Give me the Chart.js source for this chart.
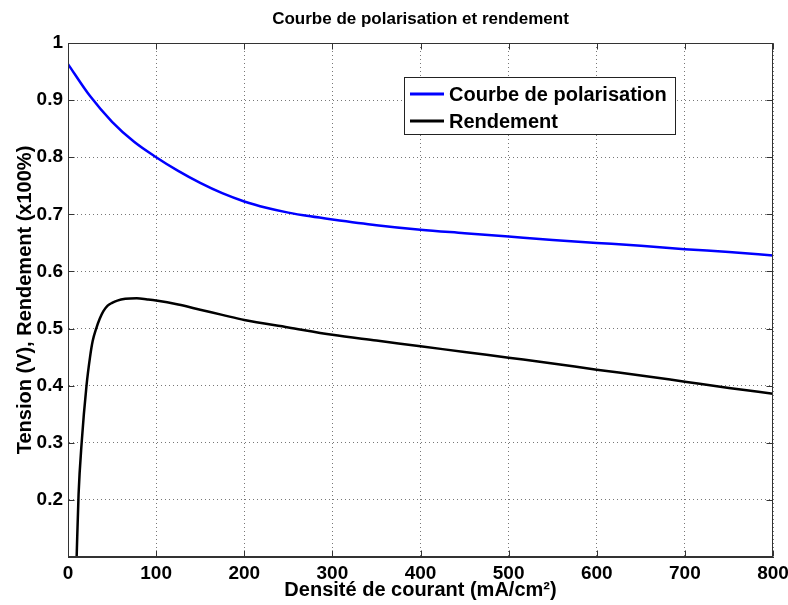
<!DOCTYPE html>
<html>
<head>
<meta charset="utf-8">
<script src="https://cdn.jsdelivr.net/npm/chart.js@4/dist/chart.umd.min.js"></script>
<style>
  html, body { margin: 0; padding: 0; background: #fff; }
  #wrap { width: 788px; height: 605px; }
</style>
</head>
<body>
<div id="wrap"><canvas id="c" width="788" height="605"></canvas></div>
<script>
// ---- Data ----
const chartTitle = 'Courbe de polarisation et rendement';
const xTitle = 'Densité de courant (mA/cm²)';
const yTitle = 'Tension (V), Rendement (x100%)';
const seriesNames = ['Courbe de polarisation', 'Rendement'];

// Polarisation curve
const polCurrent = [0, 25, 50, 75, 100, 125, 150, 175, 200, 225, 250, 275, 300, 350, 400, 450, 500, 550, 600, 650, 700, 750, 800];
const polVoltage = [0.963, 0.907, 0.862, 0.827, 0.800, 0.776, 0.755, 0.737, 0.7225, 0.7115, 0.703, 0.6965, 0.691, 0.681, 0.673, 0.667, 0.661, 0.655, 0.650, 0.645, 0.639, 0.634, 0.628];

// Efficiency curve
const effCurrent = [8, 10, 12, 15.5, 21, 25, 28, 32, 36, 40, 45, 50, 56, 65, 78, 90, 100, 125, 150, 175, 200, 250, 300, 350, 400, 450, 500, 550, 600, 650, 700, 750, 800];
const effValue   = [0.0, 0.11, 0.21, 0.30, 0.40, 0.45, 0.478, 0.50, 0.517, 0.530, 0.540, 0.545, 0.549, 0.552, 0.553, 0.551, 0.549, 0.542, 0.533, 0.524, 0.515, 0.502, 0.489, 0.479, 0.469, 0.459, 0.449, 0.439, 0.428, 0.418, 0.407, 0.396, 0.386];

// Axis ticks
const xMin = 0, xMax = 800, xStep = 100;
const yMin = 0.1, yMax = 1, yStep = 0.1;

const FONT = "'Liberation Sans', Arial, Helvetica, sans-serif";

const polPoints = polCurrent.map((x, i) => ({ x, y: polVoltage[i] }));
const effPoints = effCurrent.map((x, i) => ({ x, y: effValue[i] }));

const framePlugin = {
  id: 'frame',
  afterDatasetsDraw(chart) {
    const { ctx, chartArea: a, scales } = chart;
    ctx.save();
    ctx.strokeStyle = '#333';
    ctx.lineWidth = 1;
    const L = Math.round(a.left) + 0.5, R = Math.round(a.right) - 0.5;
    const T = Math.round(a.top) + 0.5, B = Math.round(a.bottom) - 0.5;
    ctx.strokeRect(L, T, R - L, B - T);
    const tl = 6;
    ctx.beginPath();
    scales.x.ticks.forEach(t => {
      const px = Math.round(scales.x.getPixelForValue(t.value)) + 0.5;
      ctx.moveTo(px, B); ctx.lineTo(px, B - tl);
      ctx.moveTo(px, T); ctx.lineTo(px, T + tl);
    });
    scales.y.ticks.forEach(t => {
      const py = Math.round(scales.y.getPixelForValue(t.value)) + 0.5;
      ctx.moveTo(L, py); ctx.lineTo(L + tl, py);
      ctx.moveTo(R, py); ctx.lineTo(R - tl, py);
    });
    ctx.stroke();

    // Legend box
    const bx = 404.5, by = 77.5, bw = 271, bh = 57;
    ctx.fillStyle = '#fff';
    ctx.fillRect(bx, by, bw, bh);
    ctx.strokeStyle = '#222';
    ctx.strokeRect(bx, by, bw, bh);
    ctx.font = 'bold 20px ' + FONT;
    ctx.textBaseline = 'middle';
    ctx.textAlign = 'left';
    chart.data.datasets.forEach((ds, i) => {
      const yy = 94 + i * 27;
      ctx.strokeStyle = ds.borderColor;
      ctx.lineWidth = 3;
      ctx.beginPath();
      ctx.moveTo(410, yy); ctx.lineTo(444, yy);
      ctx.stroke();
      ctx.fillStyle = '#000';
      ctx.fillText(ds.label, 449, yy + 1);
    });

    // Title
    ctx.font = 'bold 17px ' + FONT;
    ctx.textAlign = 'center';
    ctx.fillStyle = '#000';
    ctx.fillText(chartTitle, (a.left + a.right) / 2, 19);
    ctx.restore();
  }
};

new Chart(document.getElementById('c'), {
  type: 'line',
  data: {
    datasets: [
      { label: seriesNames[0], data: polPoints, borderColor: '#0000ff', backgroundColor: '#0000ff',
        borderWidth: 2.5, pointRadius: 0, cubicInterpolationMode: 'monotone', fill: false, clip: 0 },
      { label: seriesNames[1], data: effPoints, borderColor: '#000000', backgroundColor: '#000000',
        borderWidth: 2.5, pointRadius: 0, cubicInterpolationMode: 'monotone', fill: false, clip: 0 }
    ]
  },
  options: {
    responsive: false,
    animation: false,
    devicePixelRatio: 1,
    layout: { padding: { top: 43, right: 15, left: 0, bottom: 0 } },
    plugins: { legend: { display: false }, title: { display: false }, tooltip: { enabled: false } },
    scales: {
      x: {
        type: 'linear', min: xMin, max: xMax,
        ticks: { stepSize: xStep, color: '#000', padding: 5, font: { family: FONT, size: 19, weight: 'bold' } },
        grid: { color: '#777', drawTicks: false, lineWidth: 1 },
        border: { display: true, color: '#333', dash: [1, 3] },
        title: { display: true, text: xTitle, color: '#000', font: { family: FONT, size: 20, weight: 'bold' }, padding: { top: 0, bottom: 3 } },
        afterFit(s) { s.height = 48; s.paddingLeft = 0; s.paddingRight = 0; }
      },
      y: {
        type: 'linear', min: yMin, max: yMax,
        ticks: { stepSize: yStep, color: '#000', padding: 5, font: { family: FONT, size: 19, weight: 'bold' },
          callback(v) { const r = Math.round(v * 10) / 10; return r <= yMin + 1e-9 ? '' : String(r); } },
        grid: { color: '#777', drawTicks: false, lineWidth: 1 },
        border: { display: true, color: '#333', dash: [1, 3] },
        title: { display: true, text: yTitle, color: '#000', font: { family: FONT, size: 20, weight: 'bold' }, padding: { top: 13, bottom: 0 } },
        afterFit(s) { s.width = 68; s.paddingTop = 0; s.paddingBottom = 0; }
      }
    }
  },
  plugins: [framePlugin]
});
</script>
</body>
</html>
